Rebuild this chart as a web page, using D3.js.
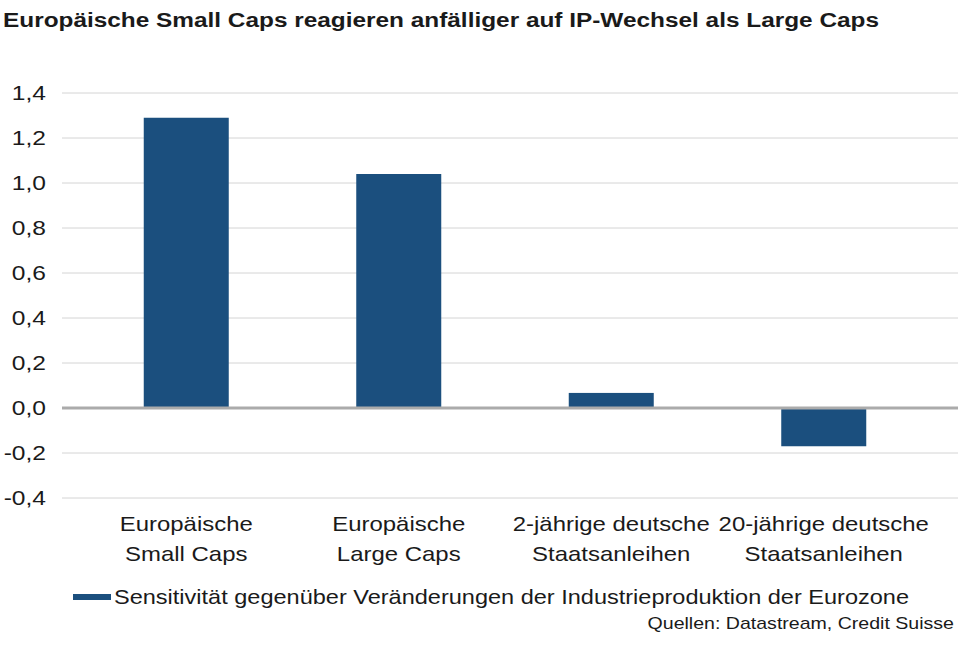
<!DOCTYPE html>
<html>
<head>
<meta charset="utf-8">
<script src="https://cdn.jsdelivr.net/npm/d3@7"></script>
<style>
  body { margin: 0; background: #fff; }
  svg text { font-family: "Liberation Sans", Arial, sans-serif; fill: #1a1a1a; }
</style>
</head>
<body>
<svg id="chart" width="958" height="664"></svg>
<script>
let categories = [
    ["Europäische", "Small Caps"],
    ["Europäische", "Large Caps"],
    ["2-jährige deutsche", "Staatsanleihen"],
    ["20-jährige deutsche", "Staatsanleihen"]
]
let values = [1.29, 1.04, 0.067, -0.17]
let ticks = [-0.4, -0.2, 0.0, 0.2, 0.4, 0.6, 0.8, 1.0, 1.2, 1.4]
let seriesName = "Sensitivität gegenüber Veränderungen der Industrieproduktion der Eurozone"
let title = "Europäische Small Caps reagieren anfälliger auf IP-Wechsel als Large Caps"
let source = "Quellen: Datastream, Credit Suisse"

let svg = d3.select("#chart")
let barColor = "#1b4f7e"

// the original font is wider than Liberation Sans, so stretch text a little
let widen = (sel, f) => {
    sel.each(function () {
        let len = this.getComputedTextLength()
        d3.select(this)
            .attr("textLength", len * f)
            .attr("lengthAdjust", "spacingAndGlyphs")
    })
}

let x = d3.scaleBand()
    .domain(categories.map((d, i) => i))
    .range([80, 930])
    .paddingInner(0.6)
    .paddingOuter(0.3)

let y = d3.scaleLinear()
    .domain([-0.4, 1.4])
    .range([498, 93])

// title
svg.append("text")
    .attr("x", 3)
    .attr("y", 27)
    .attr("font-size", 20)
    .attr("font-weight", "bold")
    .attr("textLength", 876)
    .attr("lengthAdjust", "spacingAndGlyphs")
    .text(title)

// gridlines
svg.append("g")
    .selectAll("line")
    .data(ticks.filter(t => t !== 0))
    .enter()
    .append("line")
    .attr("x1", 62)
    .attr("x2", 958)
    .attr("y1", d => y(d))
    .attr("y2", d => y(d))
    .attr("stroke", "#d4d4d4")
    .attr("stroke-width", 1)

// y axis labels
let fmt = d => d3.format(".1f")(d).replace(".", ",").replace("−", "-")
let yLabels = svg.append("g")
    .selectAll("text")
    .data(ticks)
    .enter()
    .append("text")
    .attr("x", 46)
    .attr("y", d => y(d))
    .attr("dy", "0.35em")
    .attr("text-anchor", "end")
    .attr("font-size", 21)
    .text(fmt)
widen(yLabels, 1.17)

// bars
svg.append("g")
    .selectAll("rect")
    .data(values)
    .enter()
    .append("rect")
    .attr("x", (d, i) => x(i))
    .attr("width", x.bandwidth())
    .attr("y", d => Math.min(y(d), y(0)))
    .attr("height", d => Math.abs(y(d) - y(0)))
    .attr("fill", barColor)

// zero line
svg.append("line")
    .attr("x1", 62)
    .attr("x2", 958)
    .attr("y1", y(0))
    .attr("y2", y(0))
    .attr("stroke", "#ababab")
    .attr("stroke-width", 3)

// category labels, two lines each
let catLines = []
categories.forEach((lines, i) => {
    lines.forEach((t, j) => catLines.push({ i: i, j: j, t: t }))
})
let catLabels = svg.append("g")
    .selectAll("text")
    .data(catLines)
    .enter()
    .append("text")
    .attr("x", d => x(d.i) + x.bandwidth() / 2)
    .attr("y", d => 531 + d.j * 30)
    .attr("text-anchor", "middle")
    .attr("font-size", 21)
    .text(d => d.t)
widen(catLabels, 1.14)

// legend
svg.append("rect")
    .attr("x", 73)
    .attr("y", 594)
    .attr("width", 38)
    .attr("height", 6)
    .attr("fill", barColor)

let legendText = svg.append("text")
    .attr("x", 114)
    .attr("y", 604)
    .attr("font-size", 21)
    .text(seriesName)
widen(legendText, 1.12)

// source
let sourceText = svg.append("text")
    .attr("x", 954)
    .attr("y", 629)
    .attr("text-anchor", "end")
    .attr("font-size", 17)
    .text(source)
widen(sourceText, 1.15)
</script>
</body>
</html>
